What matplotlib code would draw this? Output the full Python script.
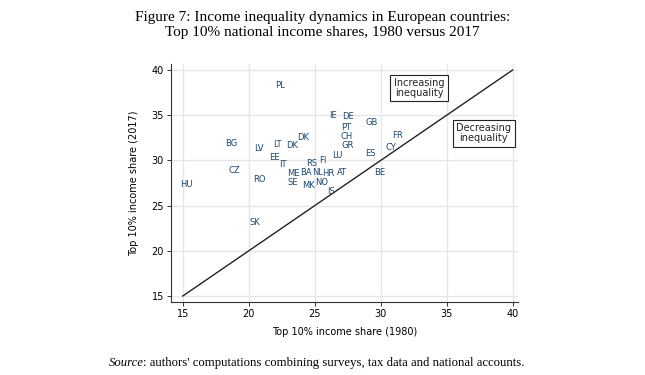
import matplotlib
matplotlib.use("Agg")
import matplotlib.pyplot as plt

countries = ["PL", "IE", "DE", "GB", "PT", "CH", "GR", "DK", "LT", "DK", "BG", "LV",
             "LU", "ES", "FR", "CY", "EE", "IT", "RS", "FI", "ME", "BA", "NL", "HR",
             "AT", "CZ", "RO", "SE", "MK", "NO", "IS", "HU", "BE", "SK"]
share_1980 = [22.4, 26.4, 27.5, 29.3, 27.4, 27.4, 27.5, 24.1, 22.2, 23.3, 18.7, 20.8,
              26.7, 29.2, 31.3, 30.8, 21.95, 22.55, 24.8, 25.6, 23.4, 24.35, 25.2, 26.05,
              27.1, 18.9, 20.8, 23.3, 24.5, 25.5, 26.2, 15.3, 29.9, 20.5]
share_2017 = [38.3, 35.0, 34.9, 34.2, 33.6, 32.6, 31.6, 32.5, 31.8, 31.7, 31.9, 31.3,
              30.5, 30.8, 32.7, 31.4, 30.3, 29.55, 29.7, 30.0, 28.6, 28.7, 28.7, 28.6,
              28.7, 28.9, 27.9, 27.6, 27.2, 27.5, 26.6, 27.3, 28.7, 23.1]
ticks = [15, 20, 25, 30, 35, 40]

fig = plt.figure(figsize=(6.45, 3.75), dpi=100)
ax = fig.add_axes([0.265, 0.195, 0.538, 0.634])
ax.set_xlim(14.1, 40.4)
ax.set_ylim(14.35, 40.65)
ax.set_xticks(ticks)
ax.set_yticks(ticks)
ax.grid(True, color="#e6e6e6", linewidth=1.0)
ax.set_axisbelow(True)
for s in ["top", "right"]:
    ax.spines[s].set_visible(False)
for s in ["left", "bottom"]:
    ax.spines[s].set_linewidth(0.8)
    ax.spines[s].set_color("#333333")
ax.tick_params(axis="both", labelsize=7, length=3, width=0.7, color="#333333", pad=2)

text_color = "#1a476f"
for c, x, y in zip(countries, share_1980, share_2017):
    ax.text(x, y, c, fontsize=6, ha="center", va="center", color=text_color)

ax.plot([15, 40], [15, 40], color="#222222", linewidth=1.0)

box = dict(boxstyle="square,pad=0.35", facecolor="white", edgecolor="#222222", linewidth=0.8)
ax.text(32.9, 38.0, "Increasing\ninequality", fontsize=7, ha="center", va="center",
        bbox=box, linespacing=1.0, color="#222222")
ax.text(37.8, 33.0, "Decreasing\ninequality", fontsize=7, ha="center", va="center",
        bbox=box, linespacing=1.0, color="#222222")

ax.set_xlabel("Top 10% income share (1980)", fontsize=7, labelpad=6)
ax.set_ylabel("Top 10% income share (2017)", fontsize=7, labelpad=9)

fig.text(0.5, 0.97, "Figure 7: Income inequality dynamics in European countries:\n"
         "Top 10% national income shares, 1980 versus 2017",
         ha="center", va="top", fontsize=11, family="Liberation Serif", linespacing=1.15)

t1 = fig.text(0.168, 0.025, "Source", ha="left", va="baseline", fontsize=9.2,
              family="Liberation Serif", style="italic")
fig.canvas.draw()
bb = t1.get_window_extent(renderer=fig.canvas.get_renderer())
x_end = bb.x1 / fig.bbox.width
fig.text(x_end, 0.025, ": authors' computations combining surveys, tax data and national accounts.",
         ha="left", va="baseline", fontsize=9.2, family="Liberation Serif")

fig.savefig("out.png", dpi=100)
